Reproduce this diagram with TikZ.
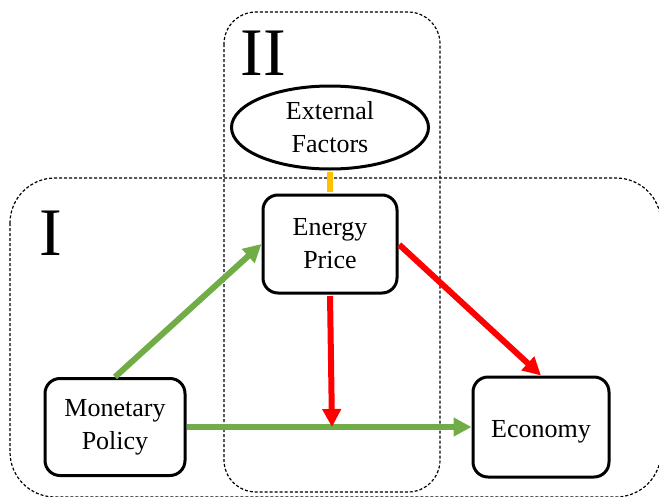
\documentclass[tikz,border=0pt]{standalone}
\usepackage{fontspec}
\setmainfont{Liberation Serif}
\usetikzlibrary{arrows.meta,shapes.geometric}
\definecolor{grn}{HTML}{70AD47}
\definecolor{rd}{HTML}{FF0000}
\definecolor{org}{HTML}{FFC000}
\begin{document}
\begin{tikzpicture}[x=1pt,y=-1pt,
  region/.style={draw=black, dash pattern=on 3pt off 2pt, line width=1.2pt, rounded corners=#1},
  box/.style={draw, line width=3pt, rounded corners=15pt, align=center, font=\fontsize{26}{33}\selectfont, inner sep=0pt},
  biglabel/.style={font=\fontsize{68}{68}\selectfont, inner sep=0pt},
  conn/.style={line width=6pt},
  tip/.style={-{Triangle[length=18pt,width=18pt]}}]
\useasboundingbox (0,0) rectangle (659,496);
\clip (0,0) rectangle (659,496);
% regions
\draw[region=45pt] (10,178) rectangle (661,497);
\draw[region=32pt] (224,12) rectangle (440,492);
\node[biglabel] (lI) at (51,233) {I};
\node[biglabel] (lII) at (263,53) {II};
% nodes
\node[box, draw, ellipse, rounded corners=0pt, minimum width=197pt, minimum height=83pt] (ext) at (330,127.5) {External\\Factors};
\node[box, minimum width=134pt, minimum height=98pt] (energy) at (330,244) {Energy\\Price};
\node[box, minimum width=140pt, minimum height=97pt] (mon) at (115,427) {Monetary\\Policy};
\node[box, minimum width=136pt, minimum height=100pt, text height=30pt, text depth=10pt] (econ) at (541,427) {Economy};
\coordinate (hit) at (332,427);
% connectors
\draw[conn, org, shorten <=1.5pt, shorten >=1.5pt] (ext.south) -- (energy.north);
\draw[conn, grn, tip] (mon.north) -- (energy.west);
\draw[conn, grn, tip] (mon.east) -- (econ.west);
\draw[conn, rd, tip, shorten <=1.5pt] (energy.south) -- (hit);
\draw[conn, rd, tip, shorten <=1pt] (energy.east) -- (econ.north);
\end{tikzpicture}
\end{document}
